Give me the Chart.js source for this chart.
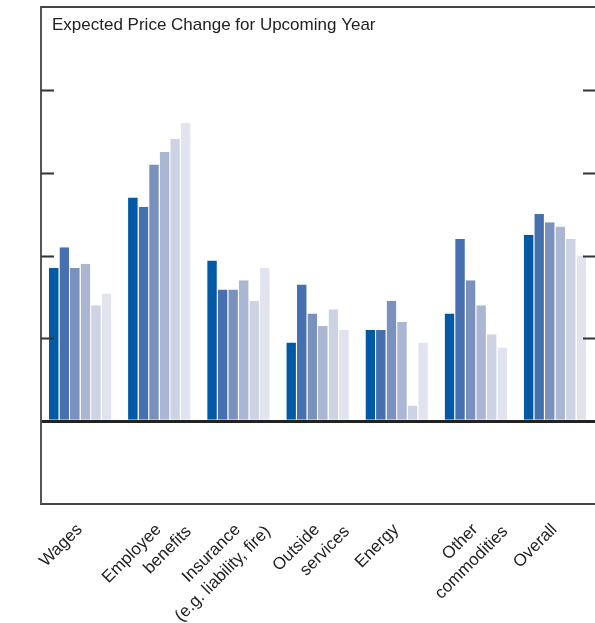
<!DOCTYPE html>
<html>
<head>
<meta charset="utf-8">
<script src="https://cdn.jsdelivr.net/npm/chart.js@4/dist/chart.umd.min.js"></script>
<style>
  html, body { margin: 0; padding: 0; background: #fff; overflow: hidden; }
  canvas { display: block; }
</style>
</head>
<body>
<canvas id="priceChart" width="595" height="623"></canvas>
<script>
// categories (multi-line labels)
const categories = [
  ['Wages'],
  ['Employee', 'benefits'],
  ['Insurance', '(e.g. liability, fire)'],
  ['Outside', 'services'],
  ['Energy'],
  ['Other', 'commodities'],
  ['Overall']
];

// one array per survey series, oldest to newest
const series1 = [1.85, 2.70, 1.94, 0.95, 1.10, 1.30, 2.25];
const series2 = [2.10, 2.59, 1.59, 1.65, 1.10, 2.20, 2.50];
const series3 = [1.85, 3.10, 1.59, 1.30, 1.45, 1.70, 2.40];
const series4 = [1.90, 3.25, 1.70, 1.15, 1.20, 1.40, 2.35];
const series5 = [1.40, 3.41, 1.45, 1.35, 0.19, 1.05, 2.20];
const series6 = [1.54, 3.60, 1.85, 1.10, 0.95, 0.89, 2.00];

const seriesColors = ['#0259a6', '#4670af', '#7a91bd', '#abb7d2', '#cdd3e4', '#e1e4ef'];

// y range and inner tick marks
const yMin = -1;
const yMax = 5;
const tickMarks = [1, 2, 3, 4];

const chartTitle = 'Expected Price Change for Upcoming Year';
const fontFamily = '"Liberation Sans", Arial, sans-serif';

// frame, inner ticks and title
const framePlugin = {
  id: 'frame',
  afterDraw(chart) {
    const { ctx, chartArea, scales } = chart;
    const y = scales.y;
    ctx.save();
    ctx.strokeStyle = '#444';
    ctx.lineWidth = 2;
    ctx.beginPath();
    ctx.moveTo(chartArea.left, chartArea.top);
    ctx.lineTo(chart.width, chartArea.top);
    ctx.stroke();

    ctx.strokeStyle = '#333';
    tickMarks.forEach(v => {
      const py = Math.round(y.getPixelForValue(v)) + 0.5;
      ctx.beginPath();
      ctx.moveTo(chartArea.left, py);
      ctx.lineTo(chartArea.left + 13, py);
      ctx.moveTo(chart.width - 12, py);
      ctx.lineTo(chart.width, py);
      ctx.stroke();
    });

    ctx.fillStyle = '#222';
    ctx.font = '17px ' + fontFamily;
    ctx.textBaseline = 'middle';
    ctx.textAlign = 'left';
    ctx.fillText(chartTitle, chartArea.left + 11, 25);
    ctx.restore();
  }
};

// slanted category labels; each extra line steps to the right
const labelPlugin = {
  id: 'slantLabels',
  afterDraw(chart) {
    const { ctx, chartArea, scales } = chart;
    const x = scales.x;
    ctx.save();
    ctx.fillStyle = '#222';
    ctx.font = '17px ' + fontFamily;
    ctx.textAlign = 'right';
    ctx.textBaseline = 'top';
    categories.forEach((lines, i) => {
      const px = x.getPixelForValue(i);
      lines.forEach((line, j) => {
        ctx.save();
        ctx.translate(px - 7 + j * 30, chartArea.bottom + 17 + j * 2);
        ctx.rotate(-Math.PI / 4);
        ctx.fillText(line, 0, 0);
        ctx.restore();
      });
    });
    ctx.restore();
  }
};

const datasets = [series1, series2, series3, series4, series5, series6].map((data, i) => ({
  data: data,
  backgroundColor: seriesColors[i],
  borderColor: '#fff',
  borderWidth: { left: 0, right: 1, top: 0, bottom: 0 },
  borderSkipped: false,
  barPercentage: 1,
  categoryPercentage: 0.8
}));

new Chart(document.getElementById('priceChart'), {
  type: 'bar',
  data: { labels: categories.map(l => l.join(' ')), datasets: datasets },
  options: {
    responsive: false,
    animation: false,
    devicePixelRatio: 1,
    layout: { padding: { left: 41, top: 7, right: 0, bottom: 0 } },
    plugins: {
      legend: { display: false },
      tooltip: { enabled: false }
    },
    scales: {
      x: {
        grid: { display: false },
        border: { display: true, color: '#444', width: 2 },
        ticks: { display: false },
        afterFit(scale) { scale.height = 119; }
      },
      y: {
        min: yMin,
        max: yMax,
        ticks: { display: false, stepSize: 1 },
        border: { display: true, color: '#555', width: 2 },
        grid: {
          drawTicks: false,
          color: c => c.tick && c.tick.value === 0 ? '#222' : 'rgba(0,0,0,0)',
          lineWidth: c => c.tick && c.tick.value === 0 ? 3 : 0
        },
        afterFit(scale) { scale.width = 0; }
      }
    }
  },
  plugins: [framePlugin, labelPlugin]
});
</script>
</body>
</html>
